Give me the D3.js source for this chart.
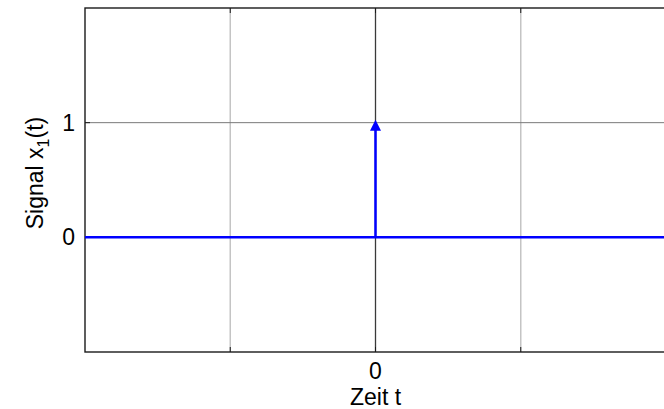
<!DOCTYPE html>
<html>
<head>
<meta charset="utf-8">
<script src="https://cdn.jsdelivr.net/npm/d3@7"></script>
<style>
  html, body { margin: 0; padding: 0; background: #fff; }
  svg { display: block; font-family: "Liberation Sans", Arial, sans-serif; }
</style>
</head>
<body>
<svg id="chart" width="664" height="409"></svg>
<script>
// Signal x1(t): Dirac impulse at t = 0 on a zero baseline
const xDomain = [-2, 2];
const yDomain = [-1, 2];
const xTicks = [-1, 0, 1];
const xTickLabels = ["", "0", ""];
const yTicks = [0, 1];
const yTickLabels = ["0", "1"];
const baseline = [[-2, 0], [2, 0]];
const impulseT = [0];
const impulseWeight = [1];

const svg = d3.select("#chart");
const margin = { left: 85, top: 8, right: -2, bottom: 57 };
const W = 664, H = 409;
const fs = 23;

const x = d3.scaleLinear().domain(xDomain).range([margin.left, W - margin.right]);
const y = d3.scaleLinear().domain(yDomain).range([H - margin.bottom, margin.top]);

const g = svg.append("g");

// grid
g.selectAll(".vgrid").data(xTicks).join("line")
  .attr("x1", d => x(d)).attr("x2", d => x(d))
  .attr("y1", y(yDomain[0])).attr("y2", y(yDomain[1]))
  .attr("stroke", d => d === 0 ? "#3a3a3a" : "#c4c4c4")
  .attr("stroke-width", d => d === 0 ? 1.3 : 1.5);
g.selectAll(".hgrid").data(yTicks).join("line")
  .attr("x1", x(xDomain[0])).attr("x2", x(xDomain[1]))
  .attr("y1", d => y(d)).attr("y2", d => y(d))
  .attr("stroke", "#7a7a7a").attr("stroke-width", 1);

// axis box
const x0 = x(xDomain[0]), x1 = x(xDomain[1]);
const y0 = y(yDomain[0]), y1 = y(yDomain[1]);
g.append("rect")
  .attr("x", x0).attr("y", y1)
  .attr("width", x1 - x0).attr("height", y0 - y1)
  .attr("fill", "none").attr("stroke", "#1a1a1a").attr("stroke-width", 1.4);

// inward tick marks
const tl = 5;
xTicks.forEach(t => {
  g.append("line").attr("x1", x(t)).attr("x2", x(t)).attr("y1", y0).attr("y2", y0 - tl)
    .attr("stroke", "#1a1a1a").attr("stroke-width", 1);
  g.append("line").attr("x1", x(t)).attr("x2", x(t)).attr("y1", y1).attr("y2", y1 + tl)
    .attr("stroke", "#1a1a1a").attr("stroke-width", 1);
});
yTicks.forEach(t => {
  g.append("line").attr("x1", x0).attr("x2", x0 + tl).attr("y1", y(t)).attr("y2", y(t))
    .attr("stroke", "#1a1a1a").attr("stroke-width", 1);
});

// tick labels
g.selectAll(".xl").data(xTicks).join("text")
  .attr("x", d => x(d)).attr("y", y0 + 27)
  .attr("text-anchor", "middle").attr("font-size", fs)
  .text((d, i) => xTickLabels[i]);
g.selectAll(".yl").data(yTicks).join("text")
  .attr("x", x0 - 10).attr("y", d => y(d) + 8)
  .attr("text-anchor", "end").attr("font-size", fs)
  .text((d, i) => yTickLabels[i]);

// axis titles
g.append("text").attr("x", x(0)).attr("y", y0 + 53)
  .attr("text-anchor", "middle").attr("font-size", fs).text("Zeit t");
const yl = g.append("text")
  .attr("transform", `translate(43,173) rotate(-90)`)
  .attr("text-anchor", "middle").attr("font-size", fs);
yl.append("tspan").text("Signal x");
yl.append("tspan").attr("font-size", 16).attr("dy", 6).text("1");
yl.append("tspan").attr("dy", -6).text("(t)");

// signal: zero baseline
const line = d3.line().x(d => x(d[0])).y(d => y(d[1]));
g.append("path").datum(baseline).attr("d", line)
  .attr("fill", "none").attr("stroke", "#0000ff").attr("stroke-width", 2.5);

// impulse stem and arrow head
impulseT.forEach((t, i) => {
  const w = impulseWeight[i];
  g.append("line").attr("x1", x(t)).attr("x2", x(t))
    .attr("y1", y(0)).attr("y2", y(w) + 6)
    .attr("stroke", "#0000ff").attr("stroke-width", 2.5);
  const tipX = x(t), tipY = y(w) - 3;
  g.append("path")
    .attr("d", `M${tipX},${tipY} L${tipX - 5.5},${tipY + 11} L${tipX + 5.5},${tipY + 11} Z`)
    .attr("fill", "#0000ff");
});
</script>
</body>
</html>
